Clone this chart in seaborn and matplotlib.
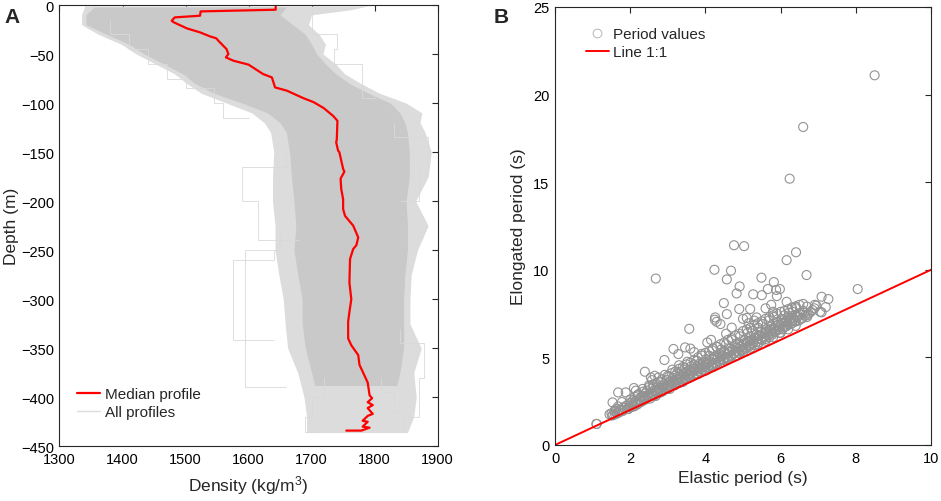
import numpy as np
import pandas as pd
import matplotlib.pyplot as plt
import seaborn as sns
from matplotlib.lines import Line2D

sns.set_style("white")
plt.rcParams['font.family'] = ['Liberation Sans', 'DejaVu Sans']
plt.rcParams['mathtext.default'] = 'regular'

# ---- panel A: density profiles ----
median_density = [1643, 1643, 1524, 1523, 1483, 1478, 1481, 1502, 1523, 1539, 1549, 1552,
                  1565, 1568, 1564, 1576, 1600, 1623, 1637, 1642, 1661, 1687, 1703, 1719,
                  1734, 1741, 1740, 1739, 1742, 1744, 1750, 1752, 1746, 1747, 1750, 1750,
                  1753, 1766, 1774, 1771, 1766, 1761, 1760, 1763, 1760, 1758, 1758, 1763,
                  1774, 1776, 1784, 1789, 1792, 1796, 1789, 1797, 1789, 1797, 1789, 1781,
                  1789, 1781, 1792, 1779, 1755]
median_depth = [0, -4.8, -6.5, -10.9, -12.6, -16, -17.5, -23.8, -27.9, -32, -34, -36.4,
                -44.9, -50, -53.4, -56.8, -60.8, -70.4, -73.8, -84, -87.4, -95, -99, -105,
                -113, -118, -137, -140, -148.5, -150, -167, -170, -177, -187.6, -198, -208,
                -215, -225, -237, -245, -248.8, -259, -283, -300, -313, -323, -340, -347,
                -357, -367, -378, -385, -398, -401, -405, -408, -411, -417, -419, -424,
                -425, -430, -431, -434, -434]

band_depth = [-1, -5, -10, -20, -30, -40, -50, -60, -70, -80, -90, -100, -110, -120, -130,
              -150, -175, -200, -225, -250, -275, -300, -325, -350, -375, -400, -420, -436]
band_outer_left = [1340, 1338, 1335, 1335, 1362, 1398, 1422, 1452, 1482, 1502, 1525, 1565,
                   1605, 1625, 1635, 1640, 1638, 1638, 1642, 1642, 1648, 1655, 1658, 1662,
                   1678, 1688, 1692, 1692]
band_outer_right = [1790, 1760, 1700, 1695, 1712, 1722, 1718, 1738, 1752, 1778, 1808, 1850,
                    1875, 1872, 1880, 1890, 1885, 1865, 1885, 1868, 1858, 1856, 1856, 1874,
                    1862, 1866, 1862, 1852]
core_depth = [-2, -10, -20, -30, -40, -50, -60, -70, -80, -90, -100, -110, -120, -130,
              -150, -175, -200, -225, -250, -275, -300, -325, -350, -375, -388]
core_left = [1355, 1342, 1342, 1375, 1410, 1435, 1465, 1495, 1515, 1545, 1590, 1630, 1650,
             1660, 1665, 1668, 1672, 1675, 1672, 1678, 1685, 1685, 1690, 1700, 1705]
core_right = [1660, 1650, 1670, 1690, 1700, 1708, 1722, 1738, 1760, 1790, 1825, 1840, 1848,
              1852, 1855, 1855, 1850, 1852, 1852, 1848, 1846, 1846, 1846, 1840, 1835]

stray_profiles = [
    ([1650, 1595, 1660], [-235, -250, -390]),
    ([1640, 1575, 1640], [-250, -260, -342]),
    ([1660, 1590, 1615, 1680], [-150, -165, -200, -240]),
    ([1830, 1885, 1870, 1840], [-120, -135, -170, -200]),
    ([1840, 1878, 1870, 1850], [-330, -345, -380, -420]),
    ([1700, 1740, 1735, 1780, 1800], [-5, -30, -45, -60, -95]),
    ([1380, 1410, 1440, 1470, 1495], [-15, -30, -45, -60, -75]),
    ([1500, 1545, 1560, 1600], [-70, -85, -100, -115]),
    ([1720, 1700, 1690, 1710], [-380, -400, -420, -435]),
    ([1810, 1830, 1845, 1840], [-380, -395, -415, -432]),
]

# ---- panel B: periods ----
elastic_period = [
    1.1, 1.45, 1.5, 1.55, 1.6, 1.62, 1.68, 1.7, 1.75, 1.78, 1.8, 1.85, 1.88, 1.9, 1.95, 1.98, 2.0,
    2.05, 2.08, 2.1, 2.12, 2.15, 2.2, 2.22, 2.25, 2.28, 2.3, 2.33, 2.35, 2.38, 2.4, 2.42, 2.45,
    2.48, 2.5, 2.52, 2.55, 2.58, 2.6, 2.62, 2.65, 2.68, 2.7, 2.72, 2.75, 2.78, 2.8, 2.82, 2.85,
    2.88, 2.9, 2.92, 2.95, 2.98,
    3.0, 3.03, 3.05, 3.08, 3.1, 3.12, 3.15, 3.18, 3.2, 3.22, 3.25, 3.28, 3.3, 3.32, 3.35, 3.38,
    3.4, 3.42, 3.45, 3.48, 3.5, 3.52, 3.55, 3.58, 3.6, 3.62, 3.65, 3.68, 3.7, 3.72, 3.75, 3.78,
    3.8, 3.82, 3.85, 3.88, 3.9, 3.92, 3.95, 3.98,
    4.0, 4.02, 4.05, 4.08, 4.1, 4.12, 4.15, 4.18, 4.2, 4.22, 4.25, 4.28, 4.3, 4.32, 4.35, 4.38,
    4.4, 4.42, 4.45, 4.48, 4.5, 4.52, 4.55, 4.58, 4.6, 4.62, 4.65, 4.68, 4.7, 4.72, 4.75, 4.78,
    4.8, 4.82, 4.85, 4.88, 4.9, 4.92, 4.95, 4.98,
    5.0, 5.02, 5.05, 5.08, 5.1, 5.12, 5.15, 5.18, 5.2, 5.22, 5.25, 5.28, 5.3, 5.32, 5.35, 5.38,
    5.4, 5.42, 5.45, 5.48, 5.5, 5.52, 5.55, 5.58, 5.6, 5.62, 5.65, 5.68, 5.7, 5.72, 5.75, 5.78,
    5.8, 5.82, 5.85, 5.88, 5.9, 5.92, 5.95, 5.98,
    6.0, 6.02, 6.05, 6.08, 6.1, 6.12, 6.15, 6.18, 6.2, 6.22, 6.25, 6.28, 6.3, 6.32, 6.35, 6.38,
    6.4, 6.42, 6.45, 6.5, 6.55, 6.6, 6.65, 6.7, 6.75, 6.85, 6.95, 7.05,
    1.52, 1.58, 1.65, 1.72, 1.82, 1.92,
    2.02, 2.07, 2.13, 2.18, 2.24, 2.29, 2.36, 2.41, 2.46, 2.53, 2.57, 2.63, 2.69, 2.74, 2.79,
    2.86, 2.91, 2.97,
    3.02, 3.07, 3.13, 3.17, 3.23, 3.27, 3.33, 3.37, 3.43, 3.47, 3.53, 3.57, 3.63, 3.67, 3.73,
    3.77, 3.83, 3.87, 3.93, 3.97,
    4.03, 4.07, 4.13, 4.17, 4.23, 4.27, 4.33, 4.37, 4.43, 4.47, 4.53, 4.57, 4.63, 4.67, 4.73,
    4.77, 4.83, 4.87, 4.93, 4.97,
    5.03, 5.07, 5.13, 5.17, 5.23, 5.27, 5.33, 5.37, 5.43, 5.47, 5.53, 5.57, 5.63, 5.67, 5.73,
    5.77, 5.83, 5.87, 5.93, 5.97,
    6.03, 6.07, 6.13, 6.17, 6.23, 6.27, 6.33, 6.37, 6.43, 6.48, 6.53, 6.58, 6.63, 6.72, 6.8, 6.9,
    2.0, 2.2, 2.35, 2.5, 2.6, 2.75, 2.85, 3.0, 3.1, 3.2, 3.3, 3.4, 3.5, 3.6, 3.7, 3.8, 3.9,
    4.0, 4.1, 4.2, 4.3, 4.4, 4.5, 4.6, 4.7, 4.8, 4.9, 5.0, 5.1, 5.2, 5.3, 5.4, 5.5, 5.6,
    5.7, 5.8, 5.9, 6.0, 6.1, 6.2, 6.3, 6.4, 6.5, 6.6,
    1.6, 1.8, 2.0, 2.2, 2.4, 2.6, 2.8, 3.0, 3.2, 3.4, 3.6, 3.8, 4.0, 4.2, 4.4, 4.6, 4.8,
    5.0, 5.2, 5.4, 5.6, 5.8, 6.0, 6.2, 6.4,
    8.5, 6.6, 6.24, 4.76, 5.03, 6.41, 6.16, 2.68, 4.24, 4.68, 4.57, 6.69, 8.05, 5.49, 4.91, 5.82,
    5.66, 5.88, 4.49, 3.57, 7.09, 7.27, 6.91, 7.2, 7.09, 6.16, 5.27, 5.5, 4.83, 4.9, 5.0, 4.26,
    4.3, 4.57, 5.19, 5.36, 5.9, 5.98, 3.15, 3.46, 3.28, 2.91, 2.39, 1.68, 1.53, 1.11,
    4.25, 4.7, 4.55, 5.1, 5.6, 5.75, 5.8, 6.4, 6.7, 5.3, 5.15, 4.4, 4.05, 4.15, 3.7, 3.6,
    2.65, 2.55, 2.1, 2.15,
]
elongated_period = [
    1.2, 1.75, 1.8, 1.72, 1.9, 2.05, 2.2, 1.85, 2.0, 2.45, 1.95, 2.1, 3.0, 2.25, 2.05, 2.4, 2.15,
    2.3, 2.55, 2.2, 2.75, 2.45, 2.35, 2.9, 2.6, 2.5, 2.75, 3.2, 2.55, 2.8, 2.95, 2.7, 3.1,
    2.85, 3.4, 2.75, 3.0, 3.7, 2.9, 3.3, 3.15, 2.8, 3.5, 3.05, 3.85, 3.25, 3.0, 3.6, 3.35,
    3.15, 3.45, 4.0, 3.3, 3.7,
    3.4, 3.9, 3.2, 3.65, 3.5, 4.3, 3.8, 3.4, 3.95, 3.6, 4.1, 3.7, 4.55, 3.55, 3.95, 4.2,
    3.75, 4.05, 4.4, 3.8, 4.15, 4.75, 3.95, 4.3, 4.05, 4.5, 4.2, 3.95, 4.6, 4.35, 4.1, 4.8,
    4.45, 4.2, 4.65, 4.4, 5.2, 4.3, 4.7, 4.5,
    4.25, 4.9, 4.6, 4.35, 5.1, 4.75, 4.5, 5.4, 4.85, 4.6, 5.05, 4.7, 5.6, 4.95, 4.75, 5.2,
    4.9, 5.45, 5.05, 4.85, 5.3, 5.0, 5.75, 5.2, 4.95, 5.5, 5.3, 5.05, 6.0, 5.4, 5.2, 5.65,
    5.35, 5.1, 5.8, 5.5, 5.25, 6.2, 5.6, 5.4,
    5.7, 5.35, 6.0, 5.55, 5.8, 6.4, 5.6, 5.95, 6.15, 5.75, 6.5, 5.9, 6.1, 5.7, 6.3, 6.05,
    6.7, 5.85, 6.25, 6.45, 6.0, 6.9, 6.2, 6.4, 6.05, 6.6, 6.35, 7.1, 6.15, 6.5, 6.75, 6.3,
    6.6, 7.3, 6.45, 6.8, 6.55, 7.0, 6.7, 6.4,
    6.85, 7.2, 6.6, 7.0, 7.4, 6.75, 7.1, 6.9, 7.3, 7.55, 7.0, 7.25, 6.95, 7.6, 7.15, 7.4,
    7.05, 7.8, 7.3, 7.5, 7.2, 7.65, 7.4, 7.9, 7.5, 7.7, 7.95, 7.6,
    1.68, 1.95, 1.8, 2.0, 2.15, 2.05,
    2.4, 2.2, 2.5, 2.3, 2.55, 2.45, 2.7, 2.6, 2.8, 2.65, 2.9, 2.8, 3.1, 2.95, 3.2,
    3.05, 3.3, 3.2,
    3.55, 3.35, 3.6, 3.5, 3.75, 3.55, 3.85, 3.65, 3.9, 3.75, 4.0, 3.85, 4.2, 3.95, 4.25,
    4.05, 4.35, 4.15, 4.45, 4.25,
    4.6, 4.45, 4.75, 4.55, 4.9, 4.65, 5.0, 4.8, 5.1, 4.9, 5.2, 5.0, 5.35, 5.1, 5.45,
    5.25, 5.55, 5.35, 5.65, 5.45,
    5.8, 5.55, 5.9, 5.7, 6.0, 5.8, 6.15, 5.9, 6.25, 6.05, 6.35, 6.15, 6.5, 6.25, 6.6,
    6.4, 6.7, 6.5, 6.85, 6.6,
    6.95, 6.7, 7.0, 6.8, 7.15, 6.9, 7.25, 7.05, 7.35, 7.1, 7.45, 7.25, 7.55, 7.4, 7.6, 7.8,
    2.6, 2.85, 3.05, 3.3, 3.45, 3.6, 3.75, 3.95, 4.1, 4.2, 4.35, 4.45, 4.6, 4.7, 4.85, 5.0, 5.1,
    5.25, 5.35, 5.5, 5.6, 5.75, 5.85, 6.0, 6.1, 6.25, 6.35, 6.5, 6.6, 6.7, 6.85, 6.95, 7.05, 7.2,
    7.3, 7.4, 7.5, 7.6, 7.65, 7.75, 7.85, 7.9, 8.0, 8.05,
    1.75, 1.95, 2.15, 2.35, 2.6, 2.8, 3.0, 3.2, 3.45, 3.6, 3.85, 4.05, 4.25, 4.45, 4.7, 4.9, 5.1,
    5.3, 5.55, 5.75, 5.95, 6.15, 6.4, 6.6, 6.8,
    21.1, 18.15, 15.2, 11.4, 11.35, 11.0, 10.55, 9.5, 10.0, 9.95, 9.45, 9.7, 8.9, 9.55, 9.05, 9.3,
    8.9, 8.85, 8.1, 6.63, 8.46, 8.33, 8.0, 7.87, 7.57, 8.17, 8.6, 8.55, 8.65, 7.76, 7.2, 7.28,
    7.03, 7.47, 7.76, 7.28, 8.5, 8.9, 5.48, 5.57, 5.19, 4.85, 4.18, 3.0, 2.43, 1.2,
    7.15, 6.7, 6.35, 7.25, 7.8, 8.0, 7.6, 7.9, 7.3, 7.1, 6.95, 6.9, 5.85, 6.0, 5.3, 5.5,
    3.95, 3.85, 3.25, 3.1,
]
one_to_one = [0, 10]

SPINE = '#262626'


def style_axes(ax):
    for s in ax.spines.values():
        s.set_visible(True)
        s.set_color(SPINE)
        s.set_linewidth(0.8)
    ax.tick_params(direction='in', top=True, right=True, length=4, width=0.8,
                   color=SPINE, labelsize=10.5, labelcolor='black', pad=4)


fig = plt.figure(figsize=(9.41, 5.02), dpi=100)
axA = fig.add_axes([0.0632, 0.109, 0.4019, 0.879])
axB = fig.add_axes([0.5898, 0.1116, 0.3996, 0.8725])

# Panel A
axA.fill_betweenx(band_depth, band_outer_left, band_outer_right, color='#dcdcdc', lw=0)
axA.fill_betweenx(core_depth, core_left, core_right, color='#c9c9c9', lw=0)
for dens, dep in stray_profiles:
    sns.lineplot(x=dens, y=dep, sort=False, estimator=None, ax=axA, color='#d9d9d9',
                 lw=0.6, drawstyle='steps-pre')
sns.lineplot(x=median_density, y=median_depth, sort=False, estimator=None, ax=axA,
             color='red', lw=1.6)
axA.set_xlim(1300, 1900)
axA.set_ylim(-450, 0)
axA.set_xticks(np.arange(1300, 1901, 100))
axA.set_yticks(np.arange(-450, 1, 50))
axA.set_xlabel('Density (kg/m$^3$)', fontsize=12.5, labelpad=5)
axA.set_ylabel('Depth (m)', fontsize=12.5, labelpad=1)
style_axes(axA)
handlesA = [Line2D([], [], color='red', lw=1.6), Line2D([], [], color='#dcdcdc', lw=1)]
axA.legend(handlesA, ['Median profile', 'All profiles'], loc='lower left',
           bbox_to_anchor=(0.01, 0.03), frameon=False, fontsize=11,
           handlelength=1.5, handletextpad=0.3, labelspacing=0.25)

# Panel B
sns.scatterplot(x=elastic_period, y=elongated_period, ax=axB, s=42, marker='o')
pts = axB.collections[-1]
pts.set_facecolor('none')
pts.set_edgecolor('#939393')
pts.set_linewidth(0.8)
sns.lineplot(x=one_to_one, y=one_to_one, ax=axB, color='red', lw=1.4)
axB.set_xlim(0, 10)
axB.set_ylim(0, 25)
axB.set_xticks(np.arange(0, 11, 2))
axB.set_yticks(np.arange(0, 26, 5))
axB.set_xlabel('Elastic period (s)', fontsize=12.5, labelpad=4)
axB.set_ylabel('Elongated period (s)', fontsize=12.5, labelpad=5)
style_axes(axB)
handlesB = [Line2D([], [], marker='o', ls='none', mfc='none', mec='#b5b5b5', ms=6.3, mew=0.7),
            Line2D([], [], color='red', lw=1.4)]
axB.legend(handlesB, ['Period values', 'Line 1:1'], loc='upper left',
           bbox_to_anchor=(0.045, 0.985), frameon=False, fontsize=11,
           handlelength=1.5, handletextpad=0.3, labelspacing=0.25)

fig.text(0.005, 0.985, 'A', fontsize=15, fontweight='bold', va='top')
fig.text(0.525, 0.985, 'B', fontsize=15, fontweight='bold', va='top')

fig.savefig('out.png', dpi=100)
